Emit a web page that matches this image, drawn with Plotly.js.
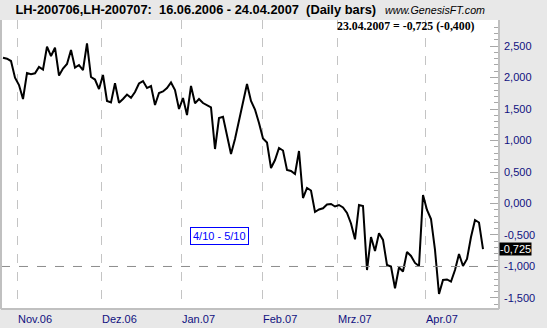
<!DOCTYPE html>
<html>
<head>
<meta charset="utf-8">
<script src="https://cdn.plot.ly/plotly-3.0.1.min.js"></script>
<style>
html,body{margin:0;padding:0;background:#e8e8e8;}
#chart{width:547px;height:328px;}
</style>
</head>
<body>
<div id="chart"></div>
<script>
// Daily closes (spread LH-200706,LH-200707), one per trading day, 26.10.2006 .. 23.04.2007
const closes = [
  2.314, 2.298, 2.262, 1.997, 1.881, 1.659, 2.071, 2.051, 2.067, 2.167,
  2.127, 2.489, 2.341, 2.473, 2.032, 2.143, 2.214, 2.437, 2.156, 2.198,
  2.119, 2.543, 2.008, 1.968, 1.817, 2.040, 1.627, 1.603, 1.908, 1.600,
  1.659, 1.730, 1.679, 1.770, 1.905, 1.944, 1.833, 1.865, 1.563, 1.754,
  1.778, 1.833, 1.921, 1.802, 1.500, 1.675, 1.405, 1.865, 1.590, 1.659,
  1.595, 1.563, 1.524, 0.865, 1.357, 1.378, 1.071, 0.786, 1.024, 1.310,
  1.643, 1.897, 1.627, 1.492, 1.278, 1.032, 0.968, 0.563, 0.690, 0.881,
  0.841, 0.532, 0.516, 0.468, 0.833, 0.087, 0.246, 0.206, -0.135, -0.095,
  -0.076, -0.016, -0.008, -0.048, -0.024, -0.063, -0.151, -0.317, -0.568, -0.024,
  -0.040, -1.056, -0.532, -0.754, -0.473, -0.579, -0.976, -1.000, -1.346, -1.016,
  -1.079, -0.770, -0.833, -0.944, -0.992, 0.135, -0.103, -0.246, -0.738, -1.437,
  -1.214, -1.206, -1.241, -1.056, -0.802, -0.992, -0.881, -0.532, -0.262, -0.302,
  -0.725
];
const dayIndex = closes.map((_, i) => i);

// Month ticks (trading-day position of the month start)
const monthPos = [3.5, 24.5, 44.5, 64.75, 83.5, 105.5];
const monthLabels = ['Nov.06', 'Dez.06', 'Jan.07', 'Feb.07', 'Mrz.07', 'Apr.07'];

// Value axis ticks
const yTicks = [-1.5, -1.0, -0.5, 0.0, 0.5, 1.0, 1.5, 2.0, 2.5];
const yTickText = ['-1,500', '-1,000', '-0,500', '0,000', '0,500', '1,000', '1,500', '2,000', '2,500'];

const refLevel = -1.0;
const lastDate = '23.04.2007';
const lastValue = -0.725;
const lastChange = -0.400;
const titleText = 'LH-200706,LH-200707:\u00a0\u00a016.06.2006 - 24.04.2007\u00a0\u00a0(Daily bars)';
const siteText = 'www.GenesisFT.com';
const periodText = '4/10 - 5/10';

const fmt = v => v.toFixed(3).replace('.', ',');

const navy = '#10107f';
const font = 'Arial, "Liberation Sans", sans-serif';

const trace = {
  x: dayIndex,
  y: closes,
  type: 'scatter',
  mode: 'lines',
  line: {color: '#000000', width: 2},
  hoverinfo: 'skip'
};

const annotations = monthPos.map((p, k) => ({
  x: p, xref: 'x', y: -0.036, yref: 'paper',
  text: monthLabels[k], showarrow: false, xanchor: 'left', yanchor: 'middle',
  xshift: -1,
  font: {family: font, size: 11, color: navy}
}));

annotations.push({
  x: 0.956, xref: 'paper', y: 0.9785, yref: 'paper',
  text: '<b>' + lastDate + ' = ' + fmt(lastValue) + ' (' + fmt(lastChange) + ')</b>',
  showarrow: false, xanchor: 'right', yanchor: 'middle',
  font: {family: '"Liberation Serif", "Times New Roman", serif', size: 11.8, color: '#000000'}
});
annotations.push({
  x: 0.767, xref: 'paper', y: 1.035, yref: 'paper',
  text: '<i>' + siteText + '</i>',
  showarrow: false, xanchor: 'left', yanchor: 'middle',
  font: {family: font, size: 10.7, color: '#000000'}
});
annotations.push({
  x: 0.438, xref: 'paper', y: 0.2526, yref: 'paper',
  text: periodText, showarrow: false, xanchor: 'center', yanchor: 'middle',
  bgcolor: '#ffffff', bordercolor: '#0000ff', borderwidth: 1, borderpad: 2,
  font: {family: font, size: 11, color: '#0000ff'}
});
annotations.push({
  x: 1, xref: 'paper', y: lastValue, yref: 'y',
  text: fmt(lastValue), showarrow: false, xanchor: 'left', yanchor: 'middle',
  bgcolor: '#000000', borderpad: 0,
  font: {family: font, size: 11, color: '#ffffff'}
});

const borderColor = '#c0c0c0';
const shapes = [
  {type: 'line', xref: 'paper', yref: 'y', x0: 0, x1: 1, y0: refLevel, y1: refLevel,
   line: {color: '#8c8c8c', width: 1, dash: 'dash'}},
  {type: 'line', xref: 'paper', yref: 'paper', x0: 0, x1: 0, y0: 0, y1: 1,
   line: {color: borderColor, width: 2}},
  {type: 'line', xref: 'paper', yref: 'paper', x0: 1, x1: 1, y0: 0, y1: 1,
   line: {color: borderColor, width: 2}},
  {type: 'line', xref: 'paper', yref: 'paper', x0: 0, x1: 1, y0: 0, y1: 0,
   line: {color: borderColor, width: 2}}
];

const layout = {
  width: 547, height: 328,
  margin: {l: 1, r: 48, t: 20, b: 19, pad: 0},
  paper_bgcolor: '#e8e8e8',
  plot_bgcolor: '#ffffff',
  showlegend: false,
  title: {
    text: '<b>' + titleText + '</b>',
    x: 15.5 / 547, xanchor: 'left', xref: 'container',
    y: 1 - 10 / 328, yanchor: 'middle', yref: 'container',
    font: {family: font, size: 12.85, color: '#000000'}
  },
  xaxis: {
    range: [-0.5, 124],
    tickvals: monthPos,
    ticktext: monthLabels,
    showticklabels: false,
    ticks: '',
    showgrid: true,
    gridcolor: '#c4c4c4',
    griddash: 'dash',
    gridwidth: 1,
    zeroline: false,
    showline: false,
    fixedrange: true
  },
  yaxis: {
    side: 'right',
    range: [-1.675, 2.913],
    tickvals: yTicks,
    ticktext: yTickText,
    ticks: 'inside',
    ticklen: 9,
    tickcolor: '#a8a8a8',
    tickwidth: 1,
    minor: {dtick: 0.1, tick0: 0, ticks: 'inside', ticklen: 5, tickcolor: '#a8a8a8', showgrid: false},
    showgrid: false,
    zeroline: false,
    showline: false,
    ticklabelstandoff: 4,
    tickfont: {family: font, size: 11, color: navy},
    fixedrange: true
  },
  annotations: annotations,
  shapes: shapes
};

Plotly.newPlot('chart', [trace], layout, {displayModeBar: false, staticPlot: true});
</script>
</body>
</html>
